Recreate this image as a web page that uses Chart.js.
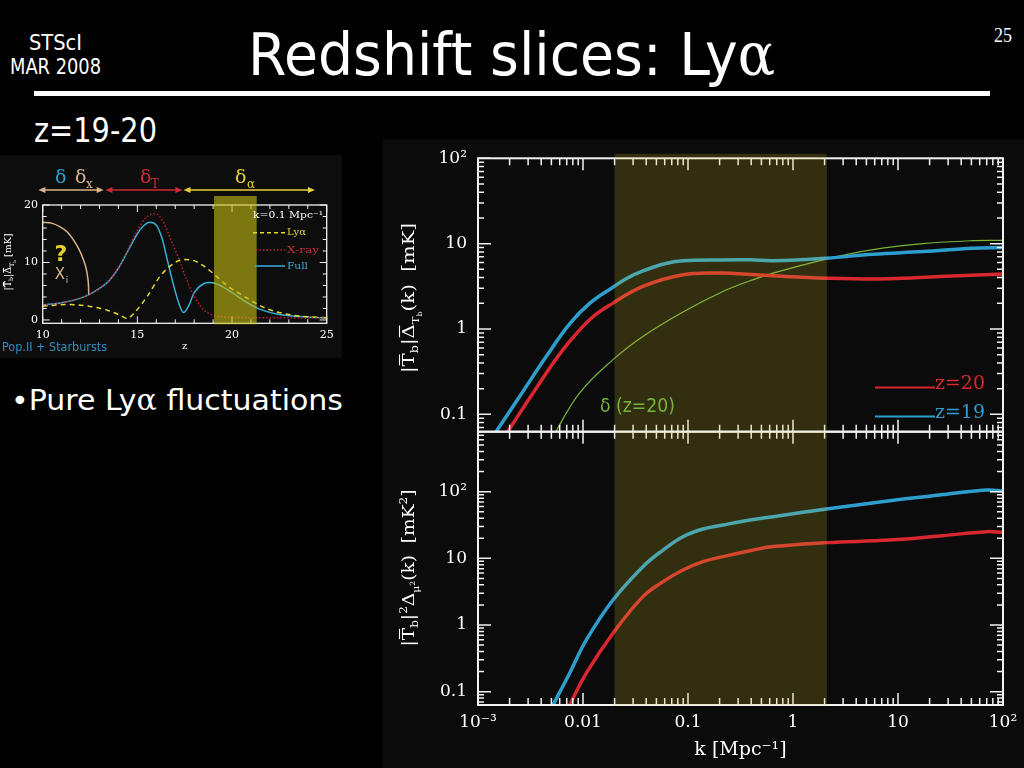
<!DOCTYPE html>
<html><head><meta charset="utf-8">
<script src="https://cdn.jsdelivr.net/npm/chart.js@4.4.1/dist/chart.umd.min.js"></script>
<style>
html,body{margin:0;padding:0;background:#000;width:1024px;height:768px;overflow:hidden;}
.abs{position:absolute;}
.txt{position:absolute;white-space:nowrap;line-height:1;transform-origin:0 0;color:#fff;font-family:'DejaVu Sans',sans-serif;}
</style></head><body>
<div class="abs" style="left:383px;top:139px;width:641px;height:629px;background:#0b0b0b"></div>
<div class="abs" style="left:0;top:155px;width:342px;height:203px;background:#0d0d0d"></div>
<div class="abs" style="left:34px;top:91px;width:956px;height:5px;background:#fff"></div>
<span class="txt fit" data-w="527" style="left:248px;top:25px;font-size:59px">Redshift slices: Ly<span style="font-family:'DejaVu Serif'">α</span></span>
<span class="txt fit" data-w="53" style="left:29px;top:32px;font-size:22px">STScI</span>
<span class="txt fit" data-w="91" style="left:10px;top:56px;font-size:22px">MAR 2008</span>
<span class="txt fit" data-w="18" style="left:994px;top:25px;font-size:20px;font-family:'Liberation Serif',serif">25</span>
<span class="txt fit" data-w="123" style="left:34px;top:114px;font-size:33px">z=19-20</span>
<span class="txt fit" data-w="332" style="left:11px;top:386px;font-size:29px">•Pure Ly<span style="font-family:'DejaVu Serif'">α</span> fluctuations</span>

<canvas id="cTop" class="abs" width="641" height="296" style="left:383px;top:140px"></canvas>
<canvas id="cBot" class="abs" width="641" height="340" style="left:383px;top:428px"></canvas>
<canvas id="cInset" class="abs" width="342" height="203" style="left:0;top:155px"></canvas>

<script>
// ---------------- DATA ----------------
const kTicks = [0.001, 0.01, 0.1, 1, 10, 100];
const kTickLabels = ['10⁻³', '0.01', '0.1', '1', '10', '10²'];
const ampTicks = [0.1, 1, 10, 100];
const ampTickLabels = ['0.1', '1', '10', '10²'];
const powTicks = [0.1, 1, 10, 100];
const powTickLabels = ['0.1', '1', '10', '10²'];
const bandK = [0.02, 2.1];

// top panel: |Tb| Delta_Tb(k) [mK]
const kAmpZ19 = [0.0014, 0.0025, 0.00448, 0.00746, 0.01156, 0.0193, 0.026, 0.0372, 0.06, 0.0895, 0.2, 0.39, 0.645, 2.08, 5.78, 17.3, 51.8, 100];
const ampZ19  = [0.056, 0.163, 0.479, 1.148, 1.995, 3.09, 3.91, 4.79, 5.82, 6.30, 6.45, 6.46, 6.30, 6.76, 7.53, 8.09, 8.85, 9.0];
const kAmpZ20 = [0.0017, 0.0036, 0.00646, 0.01156, 0.0193, 0.0372, 0.0895, 0.215, 0.31, 0.645, 2.08, 8.34, 24.9, 100];
const ampZ20  = [0.05, 0.204, 0.573, 1.285, 2.01, 3.15, 4.32, 4.52, 4.44, 4.20, 3.94, 3.87, 4.12, 4.40];
const kDelta  = [0.005, 0.00929, 0.0193, 0.0372, 0.0895, 0.215, 0.39, 0.645, 2.08, 5.78, 17.3, 51.8, 100];
const ampDelta = [0.051, 0.178, 0.438, 0.818, 1.58, 2.75, 3.67, 4.52, 6.6, 8.5, 10.0, 10.85, 10.95];

// bottom panel: |Tb|^2 Delta_mu2(k) [mK^2]
const kPowZ19 = [0.0049, 0.00746, 0.01076, 0.0193, 0.0372, 0.0578, 0.0895, 0.139, 0.215, 0.39, 0.645, 2.08, 8.34, 24.9, 69.5, 100];
const powZ19  = [0.0535, 0.189, 0.596, 2.37, 7.5, 13.3, 21.1, 27.5, 31.6, 37.6, 42.2, 55, 73.3, 89, 106, 102];
const kPowZ20 = [0.007, 0.01076, 0.0193, 0.0372, 0.0578, 0.0895, 0.139, 0.215, 0.39, 0.645, 2.08, 8.34, 24.9, 69.5, 100];
const powZ20  = [0.052, 0.189, 0.75, 2.66, 4.47, 6.68, 8.91, 10.6, 13.0, 15.0, 17.2, 18.8, 21.6, 25.1, 24.5];

// inset: fluctuation amplitude vs z at k=0.1 Mpc^-1
const zTicks = [10, 15, 20, 25];
const insetYTicks = [0, 10, 20];
const insetBand = [19.05, 21.3];
const zFull = [10, 11, 12, 12.5, 13, 13.5, 14, 14.5, 15, 15.3, 15.65, 16, 16.3, 16.6, 16.9, 17.2, 17.43, 17.7, 18, 18.5, 18.85, 19.3, 19.8, 20.3, 20.8, 21.3, 21.8, 22.5, 23, 24, 25];
const full  = [2.6, 3.0, 3.8, 4.5, 5.5, 6.8, 9.0, 12.0, 15.0, 16.3, 17.0, 16.5, 14.2, 10.2, 6.2, 2.8, 1.3, 2.4, 4.7, 6.3, 6.5, 6.1, 5.2, 4.1, 3.0, 2.1, 1.5, 0.95, 0.75, 0.5, 0.35];
const zLya = [10, 11.3, 12.3, 13.4, 14.1, 14.45, 14.8, 15.5, 16.2, 16.9, 17.4, 17.9, 18.5, 19.0, 19.7, 20.8, 21.8, 23.0, 24.0, 25];
const lya  = [2.4, 2.7, 2.45, 1.7, 0.8, 0.25, 1.1, 4.0, 7.6, 9.8, 10.5, 10.4, 9.4, 8.1, 6.1, 3.8, 2.0, 0.95, 0.55, 0.4];
const zXray = [10, 11, 12, 12.5, 13, 13.5, 14, 14.5, 15, 15.4, 15.9, 16.3, 16.8, 17.2, 17.6, 18, 18.5, 19, 19.5, 20, 21, 22, 23, 24, 25];
const xray  = [2.6, 3.0, 3.8, 4.5, 5.5, 6.8, 9.0, 12.2, 15.6, 17.6, 18.5, 17.5, 13.7, 10.5, 7.0, 4.1, 1.8, 0.8, 0.55, 0.45, 0.4, 0.4, 0.38, 0.35, 0.33];
const zXi = [10, 10.5, 10.92, 11.3, 11.63, 11.9, 12.16, 12.3, 12.38, 12.42, 12.43];
const xi  = [17.0, 16.8, 16.2, 15.3, 13.9, 12.4, 10.4, 8.9, 7.3, 5.8, 4.4];
const regionArrows = [[9.77, 13.22], [13.31, 17.38], [17.44, 24.38]];

// ---------------- HTML text fitting ----------------
document.querySelectorAll('.fit').forEach(el => {
  const w = el.getBoundingClientRect().width;
  el.style.transform = 'scaleX(' + (parseFloat(el.dataset.w) / w) + ')';
});

// ---------------- helpers ----------------
const C = { blue: '#2d9fcf', red: '#d9272f', green: '#78b43a', white: '#f2f2f2' };
function mkLine(xs, ys, color, width, extra) {
  return Object.assign({
    data: xs.map((x, i) => ({ x: x, y: ys[i] })),
    borderColor: color, borderWidth: width, pointRadius: 0, pointHoverRadius: 0,
    fill: false, cubicInterpolationMode: 'monotone'
  }, extra || {});
}
const smooth = { cubicInterpolationMode: 'default', tension: 0.4 };
function logTickValues(min, max) {
  const out = [];
  for (let e = Math.floor(Math.log10(min)); e <= Math.ceil(Math.log10(max)); e++) {
    for (let m = 1; m <= 9; m++) {
      const v = m * Math.pow(10, e);
      if (v >= min * 0.999 && v <= max * 1.001) out.push({ v: v, major: m === 1 });
    }
  }
  return out;
}
function fitFill(ctx, text, x, y, w, font, color, baseline) {
  ctx.save();
  ctx.font = font; ctx.fillStyle = color; ctx.textBaseline = baseline || 'alphabetic'; ctx.textAlign = 'left';
  const mw = ctx.measureText(text).width;
  ctx.translate(x, y); ctx.scale(w / mw, 1);
  ctx.fillText(text, 0, 0);
  ctx.restore();
}
function richText(ctx, segs, cx, cy, targetLen, color, family) {
  ctx.save();
  ctx.fillStyle = color; ctx.strokeStyle = color;
  let w = 0;
  const m = segs.map(s => { ctx.font = s.size + "px " + family; const mw = ctx.measureText(s.t).width; w += mw; return mw; });
  const sc = targetLen / w;
  ctx.translate(cx, cy); ctx.rotate(-Math.PI / 2); ctx.scale(sc, 1);
  let x = -w / 2;
  const base = segs[0].size * 0.36;
  ctx.textBaseline = 'alphabetic'; ctx.textAlign = 'left';
  segs.forEach((s, i) => {
    ctx.font = s.size + "px " + family;
    const yy = base + (s.dy || 0);
    ctx.fillText(s.t, x, yy);
    if (s.over) {
      ctx.lineWidth = 1.1;
      ctx.beginPath(); ctx.moveTo(x + 1, yy - s.size * 0.86); ctx.lineTo(x + m[i] - 1, yy - s.size * 0.86); ctx.stroke();
    }
    x += m[i];
  });
  ctx.restore();
}
function mainPlugin(cfg) {
  return {
    id: 'frame_' + cfg.name,
    afterDraw(chart) {
      const ctx = chart.ctx, a = chart.chartArea;
      const xs = chart.scales.x, ys = chart.scales.y;
      ctx.save();
      ctx.strokeStyle = C.white; ctx.lineWidth = 1.5;
      ctx.beginPath();
      logTickValues(xs.min, xs.max).forEach(t => {
        const p = xs.getPixelForValue(t.v), L = t.major ? 12 : 7;
        ctx.moveTo(p, a.top); ctx.lineTo(p, a.top + L);
        ctx.moveTo(p, a.bottom); ctx.lineTo(p, a.bottom - L);
      });
      logTickValues(ys.min, ys.max).forEach(t => {
        const p = ys.getPixelForValue(t.v), L = t.major ? 13 : 6;
        ctx.moveTo(a.left, p); ctx.lineTo(a.left + L, p);
        ctx.moveTo(a.right, p); ctx.lineTo(a.right - L, p);
      });
      ctx.stroke();
      ctx.lineWidth = 2;
      ctx.strokeRect(a.left, a.top, a.right - a.left, a.bottom - a.top);
      const b0 = xs.getPixelForValue(bandK[0]), b1 = xs.getPixelForValue(bandK[1]);
      ctx.fillStyle = 'rgba(205,195,40,0.2)';
      ctx.fillRect(b0, a.top - cfg.bandExt, b1 - b0, a.bottom - a.top + cfg.bandExt);
      cfg.extra(ctx, chart);
      ctx.restore();
    }
  };
}
const serif = "'DejaVu Serif', serif";
function logAxisY(min, max, ticksArr, labelsArr) {
  return {
    type: 'logarithmic', position: 'left', min: min, max: max,
    afterFit: s => { s.width = 95; s.paddingTop = 0; s.paddingBottom = 0; },
    afterBuildTicks: s => { s.ticks = ticksArr.map(v => ({ value: v })); },
    grid: { display: false, drawTicks: false }, border: { display: false },
    ticks: { color: '#fff', padding: 11, font: { family: serif, size: 17 },
      callback: v => { const i = ticksArr.indexOf(v); return i >= 0 ? labelsArr[i] : ''; } }
  };
}

// ---------------- top chart ----------------
new Chart(document.getElementById('cTop'), {
  type: 'line',
  data: { datasets: [
    mkLine(kAmpZ19, ampZ19, C.blue, 3.5, smooth),
    mkLine(kAmpZ20, ampZ20, C.red, 3.5, smooth),
    mkLine(kDelta, ampDelta, C.green, 1.2, smooth)
  ] },
  options: {
    responsive: false, animation: false, devicePixelRatio: 1,
    layout: { padding: { left: 0, right: 21, top: 18.3, bottom: 4.3 } },
    plugins: { legend: { display: false }, tooltip: { enabled: false } },
    scales: {
      x: { type: 'logarithmic', min: 0.001, max: 100, display: false,
        afterFit: s => { s.height = 0; s.paddingLeft = 0; s.paddingRight = 0; } },
      y: logAxisY(0.0626, 100, ampTicks, ampTickLabels)
    }
  },
  plugins: [mainPlugin({ name: 'top', bandExt: 4.5, extra: (ctx) => {
    fitFill(ctx, 'δ (z=20)', 217, 272, 75, "20px 'DejaVu Sans'", C.green);
    ctx.lineWidth = 2;
    ctx.strokeStyle = C.red; ctx.beginPath(); ctx.moveTo(492, 247.5); ctx.lineTo(552, 247.5); ctx.stroke();
    ctx.strokeStyle = C.blue; ctx.beginPath(); ctx.moveTo(492, 276.5); ctx.lineTo(552, 276.5); ctx.stroke();
    fitFill(ctx, 'z=20', 552, 249, 50, "19px " + serif, C.red);
    fitFill(ctx, 'z=19', 552, 278, 50, "19px " + serif, C.blue);
    richText(ctx, [
      { t: '|', size: 17 }, { t: 'T', size: 17, over: true }, { t: 'b', size: 11, dy: 4 }, { t: '|', size: 17 },
      { t: 'Δ', size: 17, over: true }, { t: 'T', size: 10, dy: 5 }, { t: 'b', size: 7, dy: 8 },
      { t: '(k)', size: 17 }, { t: '  [mK]', size: 17 }
    ], 25, 158, 150, '#fff', serif);
  } })]
});

// ---------------- bottom chart ----------------
new Chart(document.getElementById('cBot'), {
  type: 'line',
  data: { datasets: [
    mkLine(kPowZ19, powZ19, C.blue, 3.5, smooth),
    mkLine(kPowZ20, powZ20, C.red, 3.5, smooth)
  ] },
  options: {
    responsive: false, animation: false, devicePixelRatio: 1,
    layout: { padding: { left: 0, right: 21, top: 3.7, bottom: 0 } },
    plugins: { legend: { display: false }, tooltip: { enabled: false } },
    scales: {
      x: {
        type: 'logarithmic', min: 0.001, max: 100, position: 'bottom',
        afterFit: s => { s.height = 63; s.paddingLeft = 0; s.paddingRight = 0; },
        afterBuildTicks: s => { s.ticks = kTicks.map(v => ({ value: v })); },
        grid: { display: false, drawTicks: false }, border: { display: false },
        ticks: { color: '#fff', padding: 7, maxRotation: 0, autoSkip: false, font: { family: serif, size: 17 },
          callback: v => { const i = kTicks.indexOf(v); return i >= 0 ? kTickLabels[i] : ''; } },
        title: { display: true, text: 'k [Mpc⁻¹]', color: '#fff', font: { family: serif, size: 19 }, padding: { top: 0, bottom: 6.6 } }
      },
      y: logAxisY(0.063, 794, powTicks, powTickLabels)
    }
  },
  plugins: [mainPlugin({ name: 'bot', bandExt: 0, extra: (ctx) => {
    richText(ctx, [
      { t: '|', size: 17 }, { t: 'T', size: 17, over: true }, { t: 'b', size: 11, dy: 4 }, { t: '|', size: 17 },
      { t: '2', size: 11, dy: -7 }, { t: 'Δ', size: 17 }, { t: 'μ', size: 10, dy: 5 }, { t: '2', size: 7, dy: 1 },
      { t: '(k)', size: 17 }, { t: '  [mK', size: 17 }, { t: '2', size: 11, dy: -7 }, { t: ']', size: 17 }
    ], 25, 140, 157, '#fff', serif);
  } })]
});

// ---------------- inset chart ----------------
const IC = { full: '#38b0d8', lya: '#e6d832', xray: '#b8232c', xi: '#d8b48a', band: 'rgba(200,190,20,0.6)' };
const insetPlugin = {
  id: 'insetFrame',
  afterDraw(chart) {
    const ctx = chart.ctx, a = chart.chartArea, xs = chart.scales.x, ys = chart.scales.y;
    ctx.save();
    ctx.strokeStyle = C.white; ctx.lineWidth = 1;
    ctx.beginPath();
    for (let z = 10; z <= 25; z++) {
      const p = xs.getPixelForValue(z), L = (z % 5 === 0) ? 7 : 4;
      ctx.moveTo(p, a.top); ctx.lineTo(p, a.top + L);
      ctx.moveTo(p, a.bottom); ctx.lineTo(p, a.bottom - L);
    }
    for (let v = 0; v <= 20; v += 2) {
      const p = ys.getPixelForValue(v), L = (v % 10 === 0) ? 7 : 4;
      ctx.moveTo(a.left, p); ctx.lineTo(a.left + L, p);
      ctx.moveTo(a.right, p); ctx.lineTo(a.right - L, p);
    }
    ctx.stroke();
    ctx.lineWidth = 1.3;
    ctx.strokeRect(a.left, a.top, a.right - a.left, a.bottom - a.top);
    // band
    const b0 = xs.getPixelForValue(insetBand[0]), b1 = xs.getPixelForValue(insetBand[1]);
    ctx.fillStyle = IC.band;
    ctx.fillRect(b0, 41, b1 - b0, a.bottom + 1 - 41);
    // region arrows
    const arrowCols = [IC.xi, '#d02a35', '#e6cf35'];
    regionArrows.forEach((r, i) => {
      const x0 = xs.getPixelForValue(r[0]), x1 = xs.getPixelForValue(r[1]), y = 35;
      ctx.strokeStyle = arrowCols[i]; ctx.fillStyle = arrowCols[i]; ctx.lineWidth = 1.5;
      ctx.beginPath(); ctx.moveTo(x0 + 3, y); ctx.lineTo(x1 - 3, y); ctx.stroke();
      ctx.beginPath(); ctx.moveTo(x0, y); ctx.lineTo(x0 + 7, y - 3); ctx.lineTo(x0 + 7, y + 3); ctx.closePath(); ctx.fill();
      ctx.beginPath(); ctx.moveTo(x1, y); ctx.lineTo(x1 - 7, y - 3); ctx.lineTo(x1 - 7, y + 3); ctx.closePath(); ctx.fill();
    });
    ctx.textBaseline = 'alphabetic'; ctx.textAlign = 'left';
    const dfont = "19px 'DejaVu Serif'", sfont = "12px 'DejaVu Serif'";
    ctx.font = dfont; ctx.fillStyle = '#2aa3d0'; ctx.fillText('δ', 55, 28);
    ctx.fillStyle = IC.xi; ctx.fillText('δ', 75, 28); ctx.font = sfont; ctx.fillText('x', 86, 33);
    ctx.font = dfont; ctx.fillStyle = '#d42a35'; ctx.fillText('δ', 140, 28); ctx.font = sfont; ctx.fillText('T', 151, 33);
    ctx.font = dfont; ctx.fillStyle = '#e6cf35'; ctx.fillText('δ', 235, 28); ctx.font = sfont; ctx.fillText('α', 247, 33);
    // legend
    fitFill(ctx, 'k=0.1 Mpc⁻¹', 253, 60, 70, "10px 'DejaVu Serif'", '#fff', 'middle');
    ctx.lineWidth = 1.5;
    ctx.strokeStyle = IC.lya; ctx.setLineDash([4, 3]); ctx.beginPath(); ctx.moveTo(253, 77.7); ctx.lineTo(285, 77.7); ctx.stroke();
    ctx.strokeStyle = IC.xray; ctx.setLineDash([1.5, 2]); ctx.beginPath(); ctx.moveTo(256, 95); ctx.lineTo(285, 95); ctx.stroke();
    ctx.strokeStyle = IC.full; ctx.setLineDash([]); ctx.beginPath(); ctx.moveTo(255, 111); ctx.lineTo(285, 111); ctx.stroke();
    fitFill(ctx, 'Lyα', 287, 77.7, 19, "10px 'DejaVu Serif'", IC.lya, 'middle');
    fitFill(ctx, 'X-ray', 287, 95, 32, "10px 'DejaVu Serif'", '#c8303a', 'middle');
    fitFill(ctx, 'Full', 287, 111, 21, "10px 'DejaVu Serif'", IC.full, 'middle');
    // annotations
    ctx.fillStyle = '#e8d030'; ctx.font = "bold 22px 'DejaVu Sans'"; ctx.textAlign = 'center'; ctx.textBaseline = 'middle';
    ctx.fillText('?', 61, 100);
    ctx.fillStyle = IC.xi; ctx.font = "15px 'DejaVu Sans'"; ctx.fillText('X', 60, 120);
    ctx.font = "9px 'DejaVu Sans'"; ctx.fillText('i', 67, 126);
    fitFill(ctx, 'Pop.II + Starbursts', 2, 193, 105, "13px 'DejaVu Sans'", '#2f8fc0', 'middle');
    richText(ctx, [
      { t: '|', size: 9 }, { t: 'T', size: 9, over: true }, { t: 'b', size: 6, dy: 2 }, { t: '|', size: 9 },
      { t: 'Δ', size: 9, over: true }, { t: 'T', size: 6, dy: 3 }, { t: 'b', size: 4, dy: 5 }, { t: ' [mK]', size: 9 }
    ], 8, 107, 57, '#fff', serif);
    ctx.restore();
  }
};
new Chart(document.getElementById('cInset'), {
  type: 'line',
  data: { datasets: [
    mkLine(zXray, xray, IC.xray, 1.5, { borderDash: [1.5, 2] }),
    mkLine(zLya, lya, IC.lya, 1.5, { borderDash: [5, 4] }),
    mkLine(zFull, full, IC.full, 1.5),
    mkLine(zXi, xi, IC.xi, 1.5)
  ] },
  options: {
    responsive: false, animation: false, devicePixelRatio: 1,
    layout: { padding: { left: 0, right: 15.3, top: 50, bottom: 0 } },
    plugins: { legend: { display: false }, tooltip: { enabled: false } },
    scales: {
      x: {
        type: 'linear', min: 10, max: 25,
        afterFit: s => { s.height = 34.7; s.paddingLeft = 0; s.paddingRight = 0; },
        afterBuildTicks: s => { s.ticks = zTicks.map(v => ({ value: v })); },
        grid: { display: false, drawTicks: false }, border: { display: false },
        ticks: { color: '#fff', padding: 5, maxRotation: 0, font: { family: serif, size: 11 } },
        title: { display: true, text: 'z', color: '#fff', font: { family: serif, size: 10 }, padding: { top: 0, bottom: 5.3 } }
      },
      y: {
        type: 'linear', min: -0.58, max: 20,
        afterFit: s => { s.width = 42.7; s.paddingTop = 0; s.paddingBottom = 0; },
        afterBuildTicks: s => { s.ticks = insetYTicks.map(v => ({ value: v })); },
        grid: { display: false, drawTicks: false }, border: { display: false },
        ticks: { color: '#fff', padding: 4.7, font: { family: serif, size: 11 } }
      }
    }
  },
  plugins: [insetPlugin]
});
</script>
</body></html>
